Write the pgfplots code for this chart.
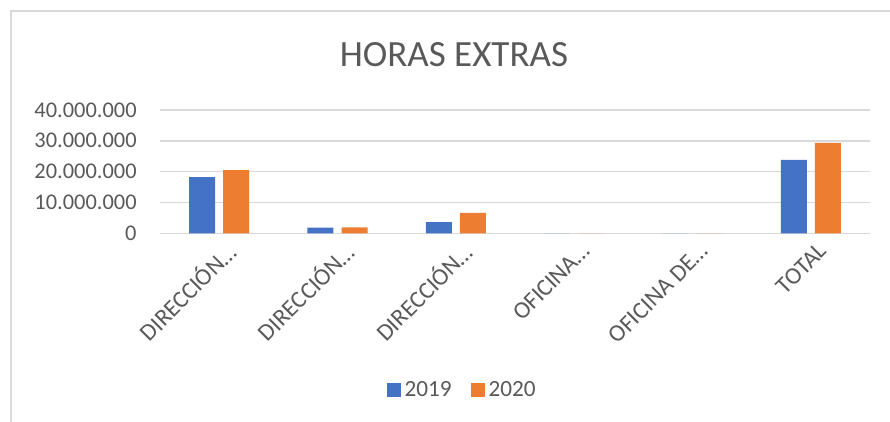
\documentclass[border=0pt]{standalone}
\usepackage{fontspec}
\setmainfont{Carlito}
\usepackage{pgfplots}
\pgfplotsset{compat=1.18}
\definecolor{xblue}{HTML}{4472C4}
\definecolor{xorange}{HTML}{ED7D31}
\definecolor{xtext}{HTML}{595959}
\definecolor{xgrid}{HTML}{D9D9D9}
\begin{document}
\begin{tikzpicture}
\useasboundingbox (0,0) rectangle (445pt,211pt);
\draw[xgrid, line width=0.75pt] (5.5pt,-1pt) -- (5.5pt,205.5pt) -- (446pt,205.5pt);
\begin{axis}[
  at={(80pt,94.35pt)}, anchor=south west,
  scale only axis, width=355pt, height=61.65pt,
  ymin=0, ymax=40000000, ytick={0,10000000,20000000,30000000,40000000},
  xmin=-0.5, xmax=5.5, xtick={0,1,2,3,4,5},
  xticklabels={DIRECCIÓN…,DIRECCIÓN…,DIRECCIÓN…,OFICINA…,OFICINA DE…,TOTAL},
  ybar=4pt, bar width=13pt,
  axis line style={draw=none},
  ymajorgrids, grid style={xgrid, line width=0.75pt},
  major tick length=0pt,
  scaled y ticks=false,
  /pgf/number format/.cd, fixed, 1000 sep={.}, assume math mode=true, /pgfplots/.cd,
  tick label style={text=xtext},
  yticklabel style={anchor=east, inner sep=0pt, xshift=-11.5pt, font=\fontsize{11.2}{13}\selectfont},
  xticklabel style={xshift=6pt, yshift=-6.85pt, rotate=45, anchor=east, inner sep=0pt, font=\fontsize{12}{14}\selectfont},
  every axis title shift=0pt,
  title={HORAS EXTRAS},
  title style={at={(0.414,1.446)}, anchor=center, font=\fontsize{18.5}{22}\selectfont, text=xtext},
  legend style={at={(0.427,-1.271)}, anchor=center, draw=none, legend columns=2,
    font=\fontsize{11.6}{13}\selectfont, text=xtext,
    /tikz/every even column/.append style={column sep=7.5pt}},
  legend image code/.code={\fill[#1] (0pt,-3.5pt) rectangle (7pt,3.5pt);},
]
\addplot[fill=xblue, draw=none] coordinates {(0,18200000) (1,1800000) (2,3600000) (3,0) (4,0) (5,23800000)};
\addplot[fill=xorange, draw=none] coordinates {(0,20500000) (1,1900000) (2,6600000) (3,0) (4,0) (5,29300000)};
\addlegendentry{2019}
\addlegendentry{2020}
\end{axis}
\end{tikzpicture}
\end{document}
